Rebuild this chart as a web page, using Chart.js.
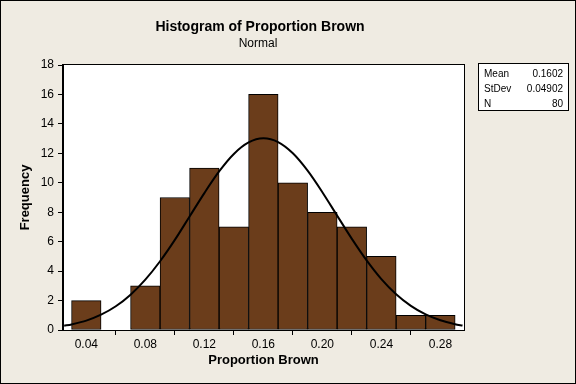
<!DOCTYPE html>
<html>
<head>
<meta charset="utf-8">
<script src="https://cdn.jsdelivr.net/npm/chart.js@4/dist/chart.umd.min.js"></script>
<style>
  body { margin: 0; background: #efebe2; }
  #wrap { width: 576px; height: 384px; }
</style>
</head>
<body>
<div id="wrap"><canvas id="histChart" width="576" height="384"></canvas></div>
<script>
// ---- data ----
const binCenters = [0.04, 0.06, 0.08, 0.10, 0.12, 0.14, 0.16, 0.18, 0.20, 0.22, 0.24, 0.26, 0.28];
const counts     = [2, 0, 3, 9, 11, 7, 16, 10, 8, 7, 5, 1, 1];

// fitted normal curve (frequency scale), read along the x axis
const curveX = [0.025, 0.03, 0.04, 0.05, 0.06, 0.07, 0.08, 0.09, 0.10, 0.11, 0.12, 0.13, 0.14, 0.15,
                0.16, 0.17, 0.18, 0.19, 0.20, 0.21, 0.22, 0.23, 0.24, 0.25, 0.26, 0.27, 0.28, 0.29, 0.295];
const curveY = [0.29, 0.38, 0.64, 1.04, 1.61, 2.40, 3.42, 4.67, 6.12, 7.71, 9.30, 10.77, 11.96, 12.74,
                13.02, 12.76, 12.00, 10.82, 9.36, 7.77, 6.19, 4.73, 3.46, 2.43, 1.64, 1.06, 0.66, 0.39, 0.30];

const xTicks = [0.04, 0.08, 0.12, 0.16, 0.20, 0.24, 0.28];
const yTicks = [0, 2, 4, 6, 8, 10, 12, 14, 16, 18];

const statLabels = ['Mean', 'StDev', 'N'];
const statValues = ['0.1602', '0.04902', '80'];

const FONT = '"Liberation Sans", Arial, sans-serif';

// background, frame, titles and the stats box
const decorPlugin = {
  id: 'decor',
  beforeDraw(chart) {
    const c = chart.ctx;
    c.save();
    c.fillStyle = '#efebe2';
    c.fillRect(0, 0, chart.width, chart.height);
    const a = chart.chartArea;
    c.fillStyle = '#ffffff';
    c.fillRect(a.left, a.top, a.right - a.left, a.bottom - a.top);
    c.restore();
  },
  afterDraw(chart) {
    const c = chart.ctx;
    const a = chart.chartArea;
    c.save();
    // plot frame
    c.strokeStyle = '#000';
    c.lineWidth = 1;
    c.strokeRect(Math.round(a.left) - 0.5, Math.round(a.top) - 0.5,
                 Math.round(a.right - a.left) + 1, Math.round(a.bottom - a.top) + 1);
    // outer frame
    c.strokeRect(0.5, 0.5, chart.width - 1, chart.height - 1);

    // titles
    c.fillStyle = '#000';
    c.textAlign = 'center';
    c.textBaseline = 'middle';
    c.font = 'bold 14px ' + FONT;
    c.fillText('Histogram of Proportion Brown', 260, 27);
    c.font = '12px ' + FONT;
    c.fillText('Normal', 258, 44);

    // stats box
    c.fillStyle = '#fff';
    c.fillRect(478.5, 63.5, 90, 47);
    c.strokeRect(478.5, 63.5, 90, 47);
    c.fillStyle = '#000';
    c.font = '10px ' + FONT;
    statLabels.forEach(function(lab, i) {
      const y = 74 + i * 15;
      c.textAlign = 'left';
      c.fillText(lab, 484, y);
      c.textAlign = 'right';
      c.fillText(statValues[i], 563, y);
    });
    c.restore();
  }
};

const ctx = document.getElementById('histChart').getContext('2d');

new Chart(ctx, {
  type: 'bar',
  data: {
    datasets: [
      {
        type: 'line',
        label: 'Normal fit',
        data: curveX.map((x, i) => ({ x: x, y: curveY[i] })),
        borderColor: '#000',
        borderWidth: 2,
        pointRadius: 0,
        tension: 0.3,
        fill: false,
        order: 0
      },
      {
        type: 'bar',
        label: 'Proportion Brown',
        data: binCenters.map((x, i) => ({ x: x, y: counts[i] })),
        backgroundColor: '#6b3d1b',
        borderColor: '#000',
        borderWidth: 1,
        borderSkipped: false,
        barPercentage: 1,
        categoryPercentage: 1,
        order: 1
      }
    ]
  },
  options: {
    responsive: false,
    devicePixelRatio: 1,
    animation: false,
    layout: { padding: { top: 65, right: 112, left: 0, bottom: 0 } },
    plugins: {
      legend: { display: false },
      tooltip: { enabled: false }
    },
    scales: {
      x: {
        type: 'linear',
        offset: false,
        min: 0.0242,
        max: 0.296,
        afterBuildTicks: function(scale) { scale.ticks = xTicks.map(v => ({ value: v })); },
        afterFit: function(scale) { scale.height = 54; },
        ticks: {
          color: '#000',
          font: { family: FONT, size: 12 },
          padding: 2,
          maxRotation: 0,
          autoSkip: false,
          callback: v => v.toFixed(2)
        },
        grid: { drawOnChartArea: false, drawTicks: true, tickLength: 5, color: '#000' },
        border: { display: true, color: '#000' },
        title: {
          display: true,
          text: 'Proportion Brown',
          color: '#000',
          font: { family: FONT, size: 13, weight: 'bold' },
          padding: { top: 0, bottom: 16 }
        }
      },
      y: {
        min: 0,
        max: 18,
        afterBuildTicks: function(scale) { scale.ticks = yTicks.map(v => ({ value: v })); },
        afterFit: function(scale) { scale.width = 63; },
        ticks: {
          color: '#000',
          font: { family: FONT, size: 12 },
          padding: 4
        },
        grid: { drawOnChartArea: false, drawTicks: true, tickLength: 5, color: '#000' },
        border: { display: true, color: '#000' },
        title: {
          display: true,
          text: 'Frequency',
          color: '#000',
          font: { family: FONT, size: 13, weight: 'bold' },
          padding: { top: 18, bottom: 0 }
        }
      }
    }
  },
  plugins: [decorPlugin]
});
</script>
</body>
</html>
